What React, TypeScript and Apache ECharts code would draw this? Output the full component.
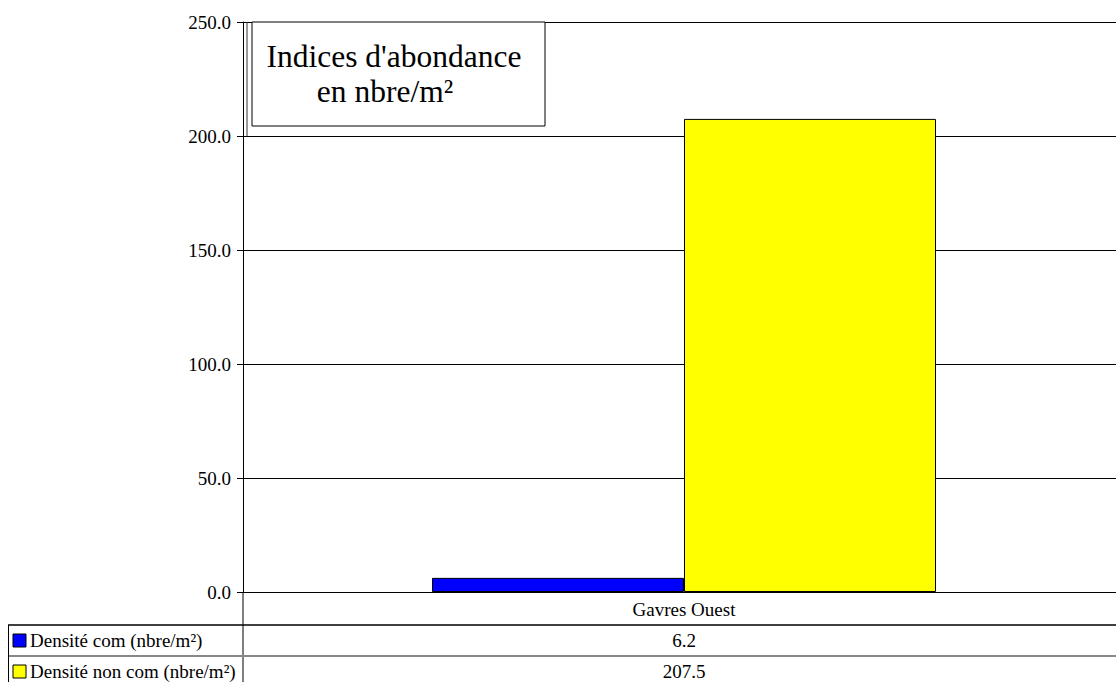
import React, { useEffect, useRef } from "react";
import * as echarts from "echarts";

const categories = ["Gavres Ouest"];
const seriesNames = ["Densité com (nbre/m²)", "Densité non com (nbre/m²)"];
const densiteCom = [6.2];
const densiteNonCom = [207.5];
const seriesColors = ["#0000FF", "#FFFF00"];
const yTicks = { min: 0, max: 250, interval: 50 };
const titleLines = ["Indices d'abondance", "en nbre/m²"];

const FONT = "Liberation Serif";
const SMALL = 19;
const W = 1116;
const H = 682;

export default function App() {
  const ref = useRef<HTMLDivElement>(null);

  useEffect(() => {
    if (!ref.current) return;
    const chart = echarts.init(ref.current, null, { renderer: "svg" });
    const values = [densiteCom, densiteNonCom];

    chart.setOption({
      animation: false,
      backgroundColor: "#ffffff",
      textStyle: { fontFamily: FONT, color: "#000" },
      grid: { left: 243, top: 22, right: -9, bottom: 90, containLabel: false, outerBoundsMode: "none" },
      xAxis: {
        type: "category",
        data: categories,
        axisLine: { show: true, lineStyle: { color: "#000", width: 1 } },
        axisTick: { show: false },
        axisLabel: { fontFamily: FONT, fontSize: SMALL, color: "#000", margin: 17, verticalAlign: "middle" },
      },
      yAxis: {
        type: "value",
        min: yTicks.min,
        max: yTicks.max,
        interval: yTicks.interval,
        axisLine: { show: true, lineStyle: { color: "#000", width: 1 } },
        axisTick: { show: true, inside: false, length: 6, lineStyle: { color: "#000" } },
        axisLabel: {
          fontFamily: FONT,
          fontSize: SMALL,
          color: "#000",
          margin: 12,
          formatter: (v: number) => v.toFixed(1),
        },
        splitLine: { show: true, lineStyle: { color: "#000", width: 1 } },
      },
      series: values.map((data, i) => ({
        name: seriesNames[i],
        type: "bar",
        data,
        barWidth: 252,
        barGap: "0%",
        itemStyle: { color: seriesColors[i], borderColor: "#000", borderWidth: 1 },
      })),
    });

    // centre of the category column, used for the data table cells
    const cx = chart.convertToPixel({ xAxisIndex: 0 }, categories[0]) as number;

    const rowCenters = [640, 671];
    const elements: any[] = [
      // title box
      { type: "line", shape: { x1: 247, y1: 22, x2: 247, y2: 136 }, style: { stroke: "#333", lineWidth: 1 } },
      { type: "rect", shape: { x: 252, y: 22, width: 293, height: 104 }, style: { fill: "#fff", stroke: "#000", lineWidth: 1 } },
      { type: "text", x: 394, y: 56, style: { text: titleLines[0], fontFamily: FONT, fontSize: 31.5, fill: "#000", align: "center", verticalAlign: "middle" } },
      { type: "text", x: 385, y: 91, style: { text: titleLines[1], fontFamily: FONT, fontSize: 31.5, fill: "#000", align: "center", verticalAlign: "middle" } },
      // data table grid
      { type: "line", shape: { x1: 243, y1: 592, x2: 243, y2: H }, style: { stroke: "#000", lineWidth: 1 } },
      { type: "line", shape: { x1: 8, y1: 625, x2: W, y2: 625 }, style: { stroke: "#000", lineWidth: 1.5 } },
      { type: "line", shape: { x1: 8, y1: 656, x2: W, y2: 656 }, style: { stroke: "#888", lineWidth: 2 } },
      { type: "line", shape: { x1: 8.5, y1: 625, x2: 8.5, y2: H }, style: { stroke: "#000", lineWidth: 1 } },
    ];

    seriesNames.forEach((name, i) => {
      const cy = rowCenters[i];
      elements.push(
        { type: "rect", shape: { x: 13, y: cy - 6, width: 13, height: 13 }, style: { fill: seriesColors[i], stroke: "#000", lineWidth: 1 } },
        { type: "text", x: 30, y: cy, style: { text: name, fontFamily: FONT, fontSize: SMALL, fill: "#000", align: "left", verticalAlign: "middle" } },
        { type: "text", x: cx, y: cy, style: { text: values[i][0].toFixed(1), fontFamily: FONT, fontSize: SMALL, fill: "#000", align: "center", verticalAlign: "middle" } }
      );
    });

    chart.setOption({ graphic: { elements } });

    return () => chart.dispose();
  }, []);

  return (
    <div
      ref={ref}
      style={{ position: "fixed", left: 0, top: 0, width: W, height: H, background: "#fff" }}
    />
  );
}
